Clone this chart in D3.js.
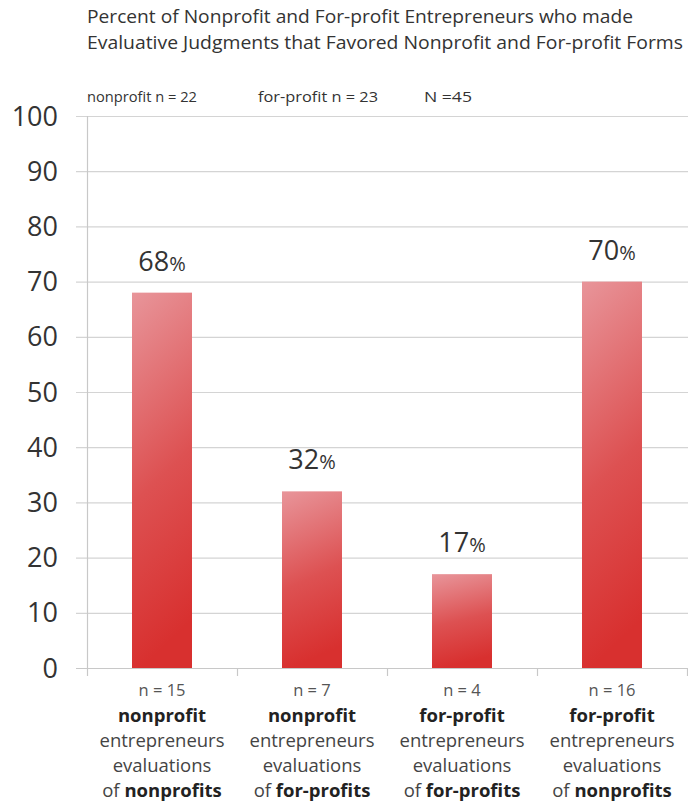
<!DOCTYPE html>
<html><head><meta charset="utf-8">
<script src="https://cdn.jsdelivr.net/npm/d3@7"></script>
<style>body{margin:0;background:#fff}svg{display:block}</style>
</head><body>
<script>
const categories = ["c1","c2","c3","c4"];
const values = [68, 32, 17, 70];
const nLabels = ["n = 15","n = 7","n = 4","n = 16"];
const line1 = ["nonprofit","nonprofit","for-profit","for-profit"];
const line4 = ["nonprofits","for-profits","for-profits","nonprofits"];
const yTicks = [0,10,20,30,40,50,60,70,80,90,100];
const titleLines = ["Percent of Nonprofit and For-profit Entrepreneurs who made","Evaluative Judgments that Favored Nonprofit and For-profit Forms"];
const subLabels = ["nonprofit n = 22","for-profit n = 23","N =45"];

const W=688,H=809;
const svg=d3.select("body").append("svg").attr("width",W).attr("height",H);
const font="'Open Sans', Lato, sans-serif";
const pLeft=87,pRight=687,pTop=116,pBottom=668;
const x=d3.scaleBand().domain(categories).range([pLeft,pRight]).paddingInner(0.6).paddingOuter(0.3);
const xb=d3.scaleBand().domain(categories).range([pLeft,pRight]);
const y=d3.scaleLinear().domain([0,100]).range([pBottom,pTop]);

const defs=svg.append("defs");
const g=defs.append("linearGradient").attr("id","bg").attr("x1",0).attr("y1",0).attr("x2",0.15).attr("y2",1);
g.append("stop").attr("offset","0%").attr("stop-color","#e8959a");
g.append("stop").attr("offset","55%").attr("stop-color","#dd5152");
g.append("stop").attr("offset","100%").attr("stop-color","#d8302f");

// title
const titleW=[546,596];
svg.append("g").selectAll("text").data(titleLines).join("text")
 .attr("x",pLeft).attr("y",(d,i)=>23+i*26).attr("font-family",font).attr("font-size",17.5)
 .attr("textLength",(d,i)=>titleW[i]).attr("lengthAdjust","spacingAndGlyphs")
 .attr("fill","#333").text(d=>d);
const subX=[87,258,424];
const subW=[110,120,48];
svg.append("g").selectAll("text").data(subLabels).join("text")
 .attr("x",(d,i)=>subX[i]).attr("y",102).attr("font-family",font).attr("font-size",14)
 .attr("textLength",(d,i)=>subW[i]).attr("lengthAdjust","spacingAndGlyphs")
 .attr("fill","#333").text(d=>d);

// grid
svg.append("g").selectAll("line").data(yTicks).join("line")
 .attr("x1",76).attr("x2",W).attr("y1",d=>y(d)+0.5).attr("y2",d=>y(d)+0.5)
 .attr("stroke",d=>d===0?"#c8c8c8":"#d4d4d4").attr("stroke-width",1.2);
svg.append("line").attr("x1",pLeft+0.5).attr("x2",pLeft+0.5).attr("y1",pTop).attr("y2",pBottom+8)
 .attr("stroke","#c8c8c8").attr("stroke-width",1.2);
svg.append("g").selectAll("line").data(categories).join("line")
 .attr("x1",(d,i)=>xb(d)+xb.step()+0.5).attr("x2",(d,i)=>xb(d)+xb.step()+0.5)
 .attr("y1",pBottom).attr("y2",pBottom+8).attr("stroke","#c8c8c8").attr("stroke-width",1.2);

// y labels
svg.append("g").selectAll("text").data(yTicks).join("text")
 .attr("x",58).attr("y",d=>y(d)+9.5).attr("text-anchor","end").attr("font-family",font)
 .attr("font-size",27).attr("fill","#333").text(d=>d);

// bars
svg.append("g").selectAll("rect").data(values).join("rect")
 .attr("x",(d,i)=>x(categories[i])).attr("width",x.bandwidth())
 .attr("y",d=>y(d)).attr("height",d=>pBottom-y(d)).attr("fill","url(#bg)");

// value labels
const vl=svg.append("g").selectAll("text").data(values).join("text")
 .attr("x",(d,i)=>x(categories[i])+x.bandwidth()/2).attr("y",d=>y(d)-22)
 .attr("text-anchor","middle").attr("font-family",font).attr("fill","#333");
vl.append("tspan").attr("font-size",27).text(d=>d);
vl.append("tspan").attr("font-size",20).text("%");

// category labels
const cl=svg.append("g").selectAll("g").data(categories).join("g")
 .attr("transform",(d,i)=>`translate(${xb(d)+xb.bandwidth()/2},0)`);
cl.append("text").attr("y",696).attr("text-anchor","middle").attr("font-family",font)
 .attr("font-size",16.5).attr("fill","#555").text((d,i)=>nLabels[i]);
cl.append("text").attr("y",722).attr("text-anchor","middle").attr("font-family",font)
 .attr("font-size",18.5).attr("font-weight","bold").attr("fill","#222").text((d,i)=>line1[i]);
cl.append("text").attr("y",747).attr("text-anchor","middle").attr("font-family",font)
 .attr("font-size",18.5).attr("fill","#444").text("entrepreneurs");
cl.append("text").attr("y",772).attr("text-anchor","middle").attr("font-family",font)
 .attr("font-size",18.5).attr("fill","#444").text("evaluations");
const l4=cl.append("text").attr("y",797).attr("text-anchor","middle").attr("font-family",font)
 .attr("font-size",18.5).attr("fill","#444");
l4.append("tspan").text("of ");
l4.append("tspan").attr("font-weight","bold").attr("fill","#222").text((d,i)=>line4[i]);
</script>
</body></html>
